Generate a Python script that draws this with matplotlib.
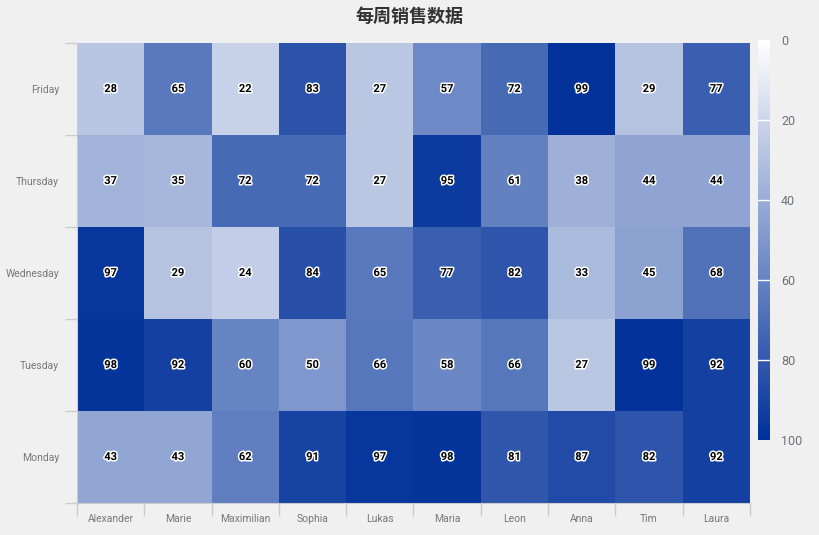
import matplotlib
matplotlib.use('Agg')
import matplotlib.pyplot as plt
import matplotlib.patheffects as pe
from matplotlib.colors import LinearSegmentedColormap
import numpy as np

# data
names = ['Alexander', 'Marie', 'Maximilian', 'Sophia', 'Lukas',
         'Maria', 'Leon', 'Anna', 'Tim', 'Laura']
days = ['Monday', 'Tuesday', 'Wednesday', 'Thursday', 'Friday']
monday = [43, 43, 62, 91, 97, 98, 81, 87, 82, 92]
tuesday = [98, 92, 60, 50, 66, 58, 66, 27, 99, 92]
wednesday = [97, 29, 24, 84, 65, 77, 82, 33, 45, 68]
thursday = [37, 35, 72, 72, 27, 95, 61, 38, 44, 44]
friday = [28, 65, 22, 83, 27, 57, 72, 99, 29, 77]
cbar_ticks = [0, 20, 40, 60, 80, 100]

values = np.array([monday, tuesday, wednesday, thursday, friday])

plt.rcParams['font.family'] = ['Noto Sans CJK SC', 'DejaVu Sans']
bg = '#f0f0f0'
cmap = LinearSegmentedColormap.from_list('blues', ['#ffffff', '#003099'])

fig = plt.figure(figsize=(8.2, 5.35), dpi=100)
fig.patch.set_facecolor(bg)

ax = fig.add_axes([0.0939, 0.0598, 0.8207, 0.8598])
ax.set_facecolor(bg)
mesh = ax.pcolormesh(np.arange(len(names) + 1), np.arange(len(days) + 1), values,
                     cmap=cmap, vmin=0, vmax=100)

# value labels on each cell
for r in range(len(days)):
    for c in range(len(names)):
        ax.text(c + 0.5, r + 0.5, str(values[r, c]), ha='center', va='center',
                fontsize=8, fontweight='bold', color='black', family='Roboto',
                path_effects=[pe.withStroke(linewidth=2.2, foreground='white')])

ax.set_xlim(0, len(names))
ax.set_ylim(0, len(days))

# category labels at centers, tick marks at boundaries
ax.set_xticks(np.arange(len(names)) + 0.5)
ax.set_xticklabels(names, family='Roboto', fontstretch='condensed')
ax.set_yticks(np.arange(len(days)) + 0.5)
ax.set_yticklabels(days, family='Roboto', fontstretch='condensed')
ax.set_xticks(np.arange(len(names) + 1), minor=True)
ax.set_yticks(np.arange(len(days) + 1), minor=True)
ax.tick_params(which='major', length=0, labelsize=7.5, colors='#777777')
ax.tick_params(axis='x', which='major', pad=8)
ax.tick_params(axis='y', which='major', pad=13)
ax.tick_params(which='minor', length=9, width=1, color='#cccccc')

for side in ['top', 'right']:
    ax.spines[side].set_visible(False)
for side in ['left', 'bottom']:
    ax.spines[side].set_color('#cccccc')

# colorbar
cax = fig.add_axes([0.9244, 0.1776, 0.0146, 0.7477])
cb = fig.colorbar(mesh, cax=cax)
cb.outline.set_visible(False)
cax.invert_yaxis()
cb.set_ticks(cbar_ticks)
cax.set_yticklabels([str(t) for t in cbar_ticks], family='Roboto')
cax.tick_params(length=0, labelsize=9, colors='#6e7079', pad=8)
for t in cbar_ticks[1:-1]:
    cax.axhline(t, color='white', linewidth=1)

fig.text(0.5, 0.970, '每周销售数据', ha='center', va='center',
         fontsize=13, fontweight='bold', color='#333333')

fig.savefig('out.png', dpi=100, facecolor=bg)
